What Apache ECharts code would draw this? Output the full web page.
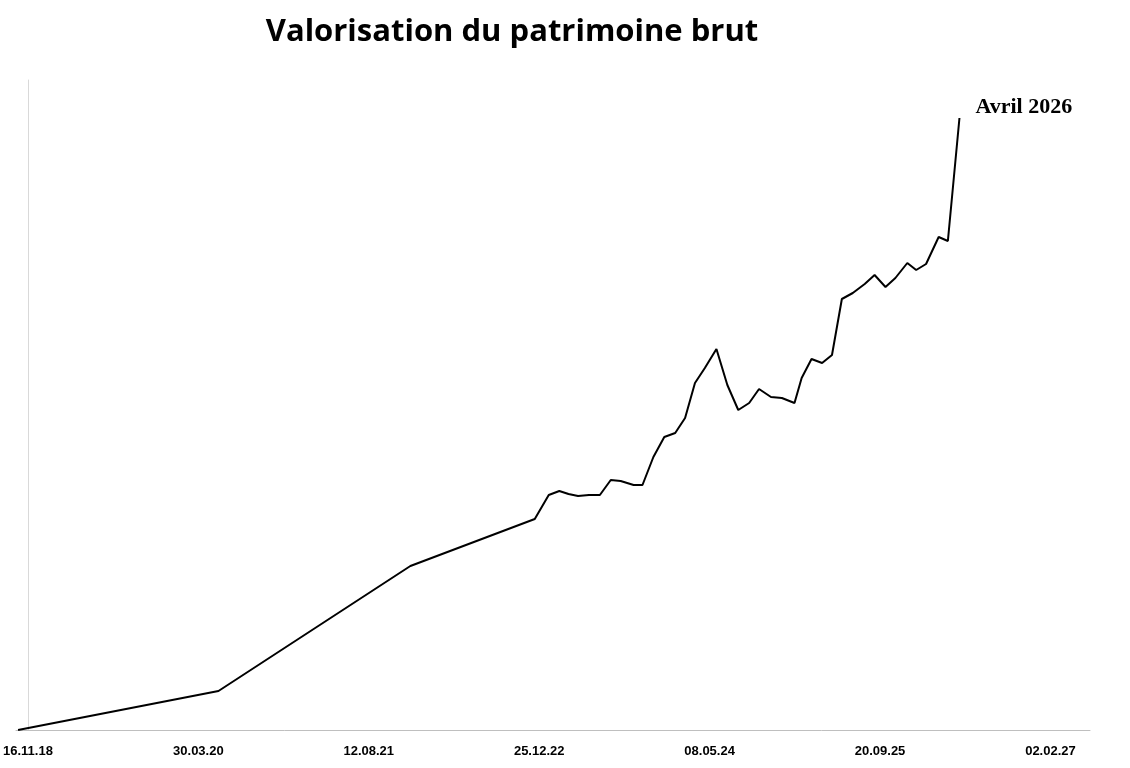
<!DOCTYPE html>
<html>
  <head>
    <title></title>
    <meta charset="UTF-8" />
    <script src="https://cdn.jsdelivr.net/npm/echarts@6/dist/echarts.min.js"></script>
    <style>
      body { margin: 0; background: #fff; }
    </style>
  </head>
  <body>
    <div id="main"></div>
    <script>
      const width = 1130;
      const height = 768;
      const main = document.getElementById('main');
      main.style.width = `${width}px`;
      main.style.height = `${height}px`;

      const dates = [
        '2018-10-18', '2020-05-28', '2021-12-12', '2022-12-12', '2023-01-22',
        '2023-02-22', '2023-03-21', '2023-04-18', '2023-05-20', '2023-06-21',
        '2023-07-23', '2023-08-21', '2023-09-28', '2023-10-24', '2023-11-25',
        '2023-12-27', '2024-01-28', '2024-02-26', '2024-03-26', '2024-04-24',
        '2024-05-28', '2024-06-29', '2024-07-31', '2024-09-01', '2024-09-30',
        '2024-11-04', '2024-12-06', '2025-01-12', '2025-02-02', '2025-03-03',
        '2025-04-03', '2025-05-02', '2025-05-31', '2025-07-02', '2025-08-06',
        '2025-09-04', '2025-10-06', '2025-11-04', '2025-12-09', '2026-01-04',
        '2026-02-02', '2026-03-11', '2026-04-07', '2026-05-11',
      ];
      const values = [
        0, 39, 164, 211, 235, 239, 236, 234, 235, 235,
        250, 249, 245, 245, 273, 293, 297, 312, 347, 362,
        381, 345, 320, 327, 341, 333, 332, 327, 352, 371,
        367, 375, 431, 437, 446, 455, 443, 452, 467, 460,
        466, 493, 489, 612,
      ];
      // tick labels every 500 days starting 16.11.18
      const tickDates = ['2018-11-16', '2020-03-30', '2021-08-12', '2022-12-25', '2024-05-08', '2025-09-20', '2027-02-02'];

      const DAY = 86400000;
      const toMs = (s) => {
        const [y, m, d] = s.split('-').map(Number);
        return Date.UTC(y, m - 1, d);
      };
      const origin = toMs(tickDates[0]);
      const toDay = (s) => Math.round((toMs(s) - origin) / DAY);
      const fmt = (day) => {
        const dt = new Date(origin + day * DAY);
        const p = (n) => String(n).padStart(2, '0');
        return `${p(dt.getUTCDate())}.${p(dt.getUTCMonth() + 1)}.${p(dt.getUTCFullYear() % 100)}`;
      };
      const ticks = tickDates.map(toDay);
      const seriesData = dates.map((d, i) => [toDay(d), values[i]]);

      const myChart = echarts.init(main);
      const option = {
        animation: false,
        title: {
          text: 'Valorisation du patrimoine brut',
          left: 507,
          top: 12,
          textAlign: 'center',
          textStyle: {
            fontFamily: 'Open Sans',
            fontWeight: 'bold',
            fontSize: 31,
            color: '#000',
          },
        },
        grid: { left: 3, right: 40, top: 80, bottom: 38 },
        xAxis: {
          type: 'value',
          min: -35,
          max: 3116,
          splitLine: { show: false },
          axisLine: { lineStyle: { color: '#bfbfbf' } },
          axisTick: { show: false },
          axisLabel: {
            customValues: ticks,
            formatter: (v) => fmt(v),
            margin: 15,
            fontFamily: 'Liberation Sans Narrow, Liberation Sans',
            fontWeight: 'bold',
            fontSize: 13,
            color: '#000',
          },
        },
        yAxis: {
          type: 'value',
          min: 0,
          max: 650,
          splitLine: { show: false },
          axisLabel: { show: false },
          axisTick: { show: false },
          axisLine: { show: true, lineStyle: { color: '#d9d9d9' } },
        },
        series: [
          {
            type: 'line',
            data: seriesData,
            symbol: 'none',
            lineStyle: { color: '#000', width: 2 },
            endLabel: {
              show: true,
              formatter: 'Avril 2026',
              offset: [8, -11],
              fontFamily: 'Liberation Serif',
              fontWeight: 'bold',
              fontSize: 22,
              color: '#000',
            },
          },
        ],
      };
      myChart.setOption(option);
    </script>
  </body>
</html>
